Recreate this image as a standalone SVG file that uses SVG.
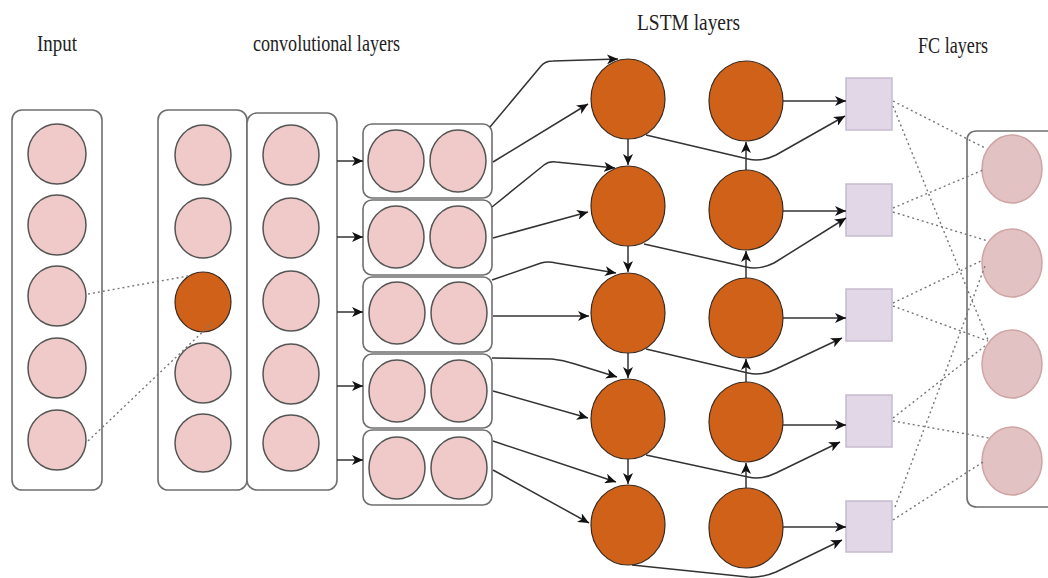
<svg xmlns="http://www.w3.org/2000/svg" width="1048" height="578" viewBox="0 0 1048 578">
  <style>
    .lbl { font-family: "Liberation Serif", "DejaVu Serif", serif; font-size: 24px; fill: #222; }
    .box { fill: #fff; stroke: #6f6f6f; stroke-width: 1.6; }
    .pink { fill: #efcac9; stroke: #555; stroke-width: 1.5; }
    .orange { fill: #d06119; stroke: #3a2a20; stroke-width: 1.2; }
    .sq { fill: #e1d7e6; stroke: #c6bbd0; stroke-width: 1.5; }
    .fc { fill: #e2c2c2; stroke: #cfa4a4; stroke-width: 1.5; }
    .arr { fill: none; stroke: #333; stroke-width: 1.5; marker-end: url(#head); }
    .dot { fill: none; stroke: #777; stroke-width: 1.4; stroke-dasharray: 2 3; }
  </style>
  <defs>
    <marker id="head" markerUnits="userSpaceOnUse" markerWidth="12" markerHeight="10" refX="11" refY="5" orient="auto">
      <path d="M0,0 L11,5 L0,10 L3,5 Z" fill="#111"/>
    </marker>
  </defs>
  <rect width="1048" height="578" fill="#fff"/>

  <!-- headings -->
  <g id="labels">
    <text class="lbl" x="37" y="51" textLength="40" lengthAdjust="spacingAndGlyphs">Input</text>
    <text class="lbl" x="253" y="51" textLength="147" lengthAdjust="spacingAndGlyphs">convolutional layers</text>
    <text class="lbl" x="637" y="30" textLength="103" lengthAdjust="spacingAndGlyphs">LSTM layers</text>
    <text class="lbl" x="918" y="53" textLength="70" lengthAdjust="spacingAndGlyphs">FC layers</text>
  </g>

  <!-- input column -->
  <g id="input">
    <rect class="box" x="12" y="110" width="90" height="380" rx="10"/>
    <ellipse class="pink" cx="57" cy="154" rx="29" ry="30"/>
    <ellipse class="pink" cx="57" cy="225" rx="29" ry="30"/>
    <ellipse class="pink" cx="57" cy="296" rx="29" ry="30"/>
    <ellipse class="pink" cx="57" cy="368" rx="29" ry="30"/>
    <ellipse class="pink" cx="57" cy="440" rx="29" ry="30"/>
  </g>

  <!-- first convolutional column -->
  <g id="conv1">
    <rect class="box" x="158" y="110" width="89" height="380" rx="10"/>
    <ellipse class="pink" cx="203" cy="155" rx="28" ry="30"/>
    <ellipse class="pink" cx="203" cy="228" rx="28" ry="30"/>
    <ellipse class="orange" cx="203" cy="302" rx="28" ry="30"/>
    <ellipse class="pink" cx="203" cy="373" rx="28" ry="30"/>
    <ellipse class="pink" cx="203" cy="443" rx="28" ry="29"/>
  </g>

  <!-- second convolutional column -->
  <g id="conv2">
    <rect class="box" x="247" y="113" width="90" height="377" rx="10"/>
    <ellipse class="pink" cx="291" cy="155" rx="28" ry="30"/>
    <ellipse class="pink" cx="291" cy="228" rx="28" ry="30"/>
    <ellipse class="pink" cx="291" cy="301" rx="28" ry="30"/>
    <ellipse class="pink" cx="291" cy="374" rx="28" ry="30"/>
    <ellipse class="pink" cx="291" cy="443" rx="28" ry="28"/>
  </g>

  <!-- paired feature maps -->
  <g id="pair1">
    <rect class="box" x="363" y="124" width="129" height="74" rx="9"/>
    <ellipse class="pink" cx="396" cy="161" rx="28" ry="31"/>
    <ellipse class="pink" cx="458" cy="161" rx="28" ry="31"/>
  </g>
  <g id="pair2">
    <rect class="box" x="363" y="200" width="129" height="75" rx="9"/>
    <ellipse class="pink" cx="396" cy="237" rx="28" ry="31"/>
    <ellipse class="pink" cx="458" cy="237" rx="28" ry="31"/>
  </g>
  <g id="pair3">
    <rect class="box" x="363" y="277" width="129" height="75" rx="9"/>
    <ellipse class="pink" cx="397" cy="313" rx="28" ry="31"/>
    <ellipse class="pink" cx="459" cy="313" rx="28" ry="31"/>
  </g>
  <g id="pair4">
    <rect class="box" x="363" y="354" width="129" height="74" rx="9"/>
    <ellipse class="pink" cx="397" cy="391" rx="28" ry="31"/>
    <ellipse class="pink" cx="459" cy="391" rx="28" ry="31"/>
  </g>
  <g id="pair5">
    <rect class="box" x="363" y="430" width="129" height="75" rx="9"/>
    <ellipse class="pink" cx="397" cy="468" rx="28" ry="31"/>
    <ellipse class="pink" cx="459" cy="468" rx="28" ry="31"/>
  </g>

  <!-- LSTM layers -->
  <g id="lstm1">
    <ellipse class="orange" cx="628" cy="99" rx="37" ry="40"/>
    <ellipse class="orange" cx="628" cy="206" rx="37" ry="40"/>
    <ellipse class="orange" cx="628" cy="313" rx="37" ry="40"/>
    <ellipse class="orange" cx="628" cy="419" rx="37" ry="40"/>
    <ellipse class="orange" cx="628" cy="525" rx="37" ry="40"/>
  </g>
  <g id="lstm2">
    <ellipse class="orange" cx="746" cy="101" rx="37" ry="40"/>
    <ellipse class="orange" cx="746" cy="210" rx="37" ry="40"/>
    <ellipse class="orange" cx="746" cy="318" rx="37" ry="40"/>
    <ellipse class="orange" cx="746" cy="422" rx="37" ry="40"/>
    <ellipse class="orange" cx="746" cy="528" rx="37" ry="40"/>
  </g>

  <!-- FC squares -->
  <g id="fc1">
    <rect class="sq" x="846" y="78" width="46" height="52"/>
    <rect class="sq" x="846" y="184" width="46" height="52"/>
    <rect class="sq" x="846" y="289" width="46" height="52"/>
    <rect class="sq" x="846" y="395" width="46" height="52"/>
    <rect class="sq" x="846" y="501" width="46" height="51"/>
  </g>

  <!-- FC output block -->
  <g id="fc2">
    <path class="box" d="M1050,131 L977,131 Q967,131 967,141 L967,497 Q967,507 977,507 L1050,507" stroke-width="2"/>
    <ellipse class="fc" cx="1012" cy="169" rx="30" ry="34"/>
    <ellipse class="fc" cx="1012" cy="263" rx="30" ry="34"/>
    <ellipse class="fc" cx="1012" cy="364" rx="30" ry="34"/>
    <ellipse class="fc" cx="1012" cy="461" rx="30" ry="34"/>
  </g>

  <!-- connectors -->
  <g id="connectors">
    <!-- receptive field -->
    <line class="dot" x1="88" y1="294" x2="188" y2="276"/>
    <line class="dot" x1="88" y1="441" x2="212" y2="323"/>

    <!-- conv to pairs -->
    <line class="arr" x1="337" y1="161" x2="363" y2="161"/>
    <line class="arr" x1="337" y1="237" x2="363" y2="237"/>
    <line class="arr" x1="337" y1="312" x2="363" y2="312"/>
    <line class="arr" x1="337" y1="386" x2="363" y2="386"/>
    <line class="arr" x1="337" y1="460" x2="363" y2="460"/>

    <!-- pairs to first LSTM column -->
    <path class="arr" d="M490,127 L541,66 Q545,61 553,61 L618,59"/>
    <line class="arr" x1="493" y1="162" x2="588" y2="104"/>
    <path class="arr" d="M492,207 L544,165 Q549,161 556,162 L615,168"/>
    <line class="arr" x1="493" y1="238" x2="588" y2="212"/>
    <path class="arr" d="M492,280 L541,263 Q548,261 556,263 L616,273"/>
    <line class="arr" x1="493" y1="316" x2="589" y2="316"/>
    <path class="arr" d="M492,358 L552,359 Q563,360 575,364 L617,377"/>
    <line class="arr" x1="493" y1="391" x2="588" y2="418"/>
    <line class="arr" x1="493" y1="441" x2="616" y2="482"/>
    <line class="arr" x1="493" y1="470" x2="589" y2="523"/>

    <!-- recurrent links -->
    <line class="arr" x1="628" y1="139" x2="628" y2="165"/>
    <line class="arr" x1="628" y1="246" x2="628" y2="272"/>
    <line class="arr" x1="628" y1="353" x2="628" y2="378"/>
    <line class="arr" x1="628" y1="459" x2="628" y2="484"/>
    <line class="arr" x1="746" y1="170" x2="746" y2="142"/>
    <line class="arr" x1="746" y1="278" x2="746" y2="251"/>
    <line class="arr" x1="746" y1="382" x2="746" y2="359"/>
    <line class="arr" x1="746" y1="488" x2="746" y2="463"/>

    <!-- second LSTM column to FC -->
    <line class="arr" x1="783" y1="101" x2="846" y2="101"/>
    <line class="arr" x1="783" y1="211" x2="846" y2="211"/>
    <line class="arr" x1="783" y1="318" x2="846" y2="318"/>
    <line class="arr" x1="783" y1="425" x2="846" y2="425"/>
    <line class="arr" x1="783" y1="527" x2="846" y2="527"/>

    <!-- skip links from first LSTM column -->
    <path class="arr" d="M646,135 L748,159 Q762,162 776,155 L845,116"/>
    <path class="arr" d="M644,244 L746,267 Q760,270 774,263 L846,218"/>
    <path class="arr" d="M646,349 L748,373 Q762,376 776,369 L842,338"/>
    <path class="arr" d="M646,455 L748,477 Q762,480 776,473 L840,442"/>
    <path class="arr" d="M632,565 L748,577 Q762,578 776,572 L842,540"/>

    <!-- dense FC links -->
    <line class="dot" x1="893" y1="101" x2="985" y2="148"/>
    <line class="dot" x1="893" y1="106" x2="988" y2="340"/>
    <line class="dot" x1="893" y1="208" x2="983" y2="170"/>
    <line class="dot" x1="893" y1="212" x2="988" y2="241"/>
    <line class="dot" x1="893" y1="303" x2="983" y2="260"/>
    <line class="dot" x1="893" y1="306" x2="988" y2="341"/>
    <line class="dot" x1="893" y1="418" x2="985" y2="346"/>
    <line class="dot" x1="893" y1="421" x2="989" y2="438"/>
    <line class="dot" x1="893" y1="520" x2="983" y2="462"/>
    <line class="dot" x1="895" y1="507" x2="985" y2="266"/>
  </g>
</svg>
